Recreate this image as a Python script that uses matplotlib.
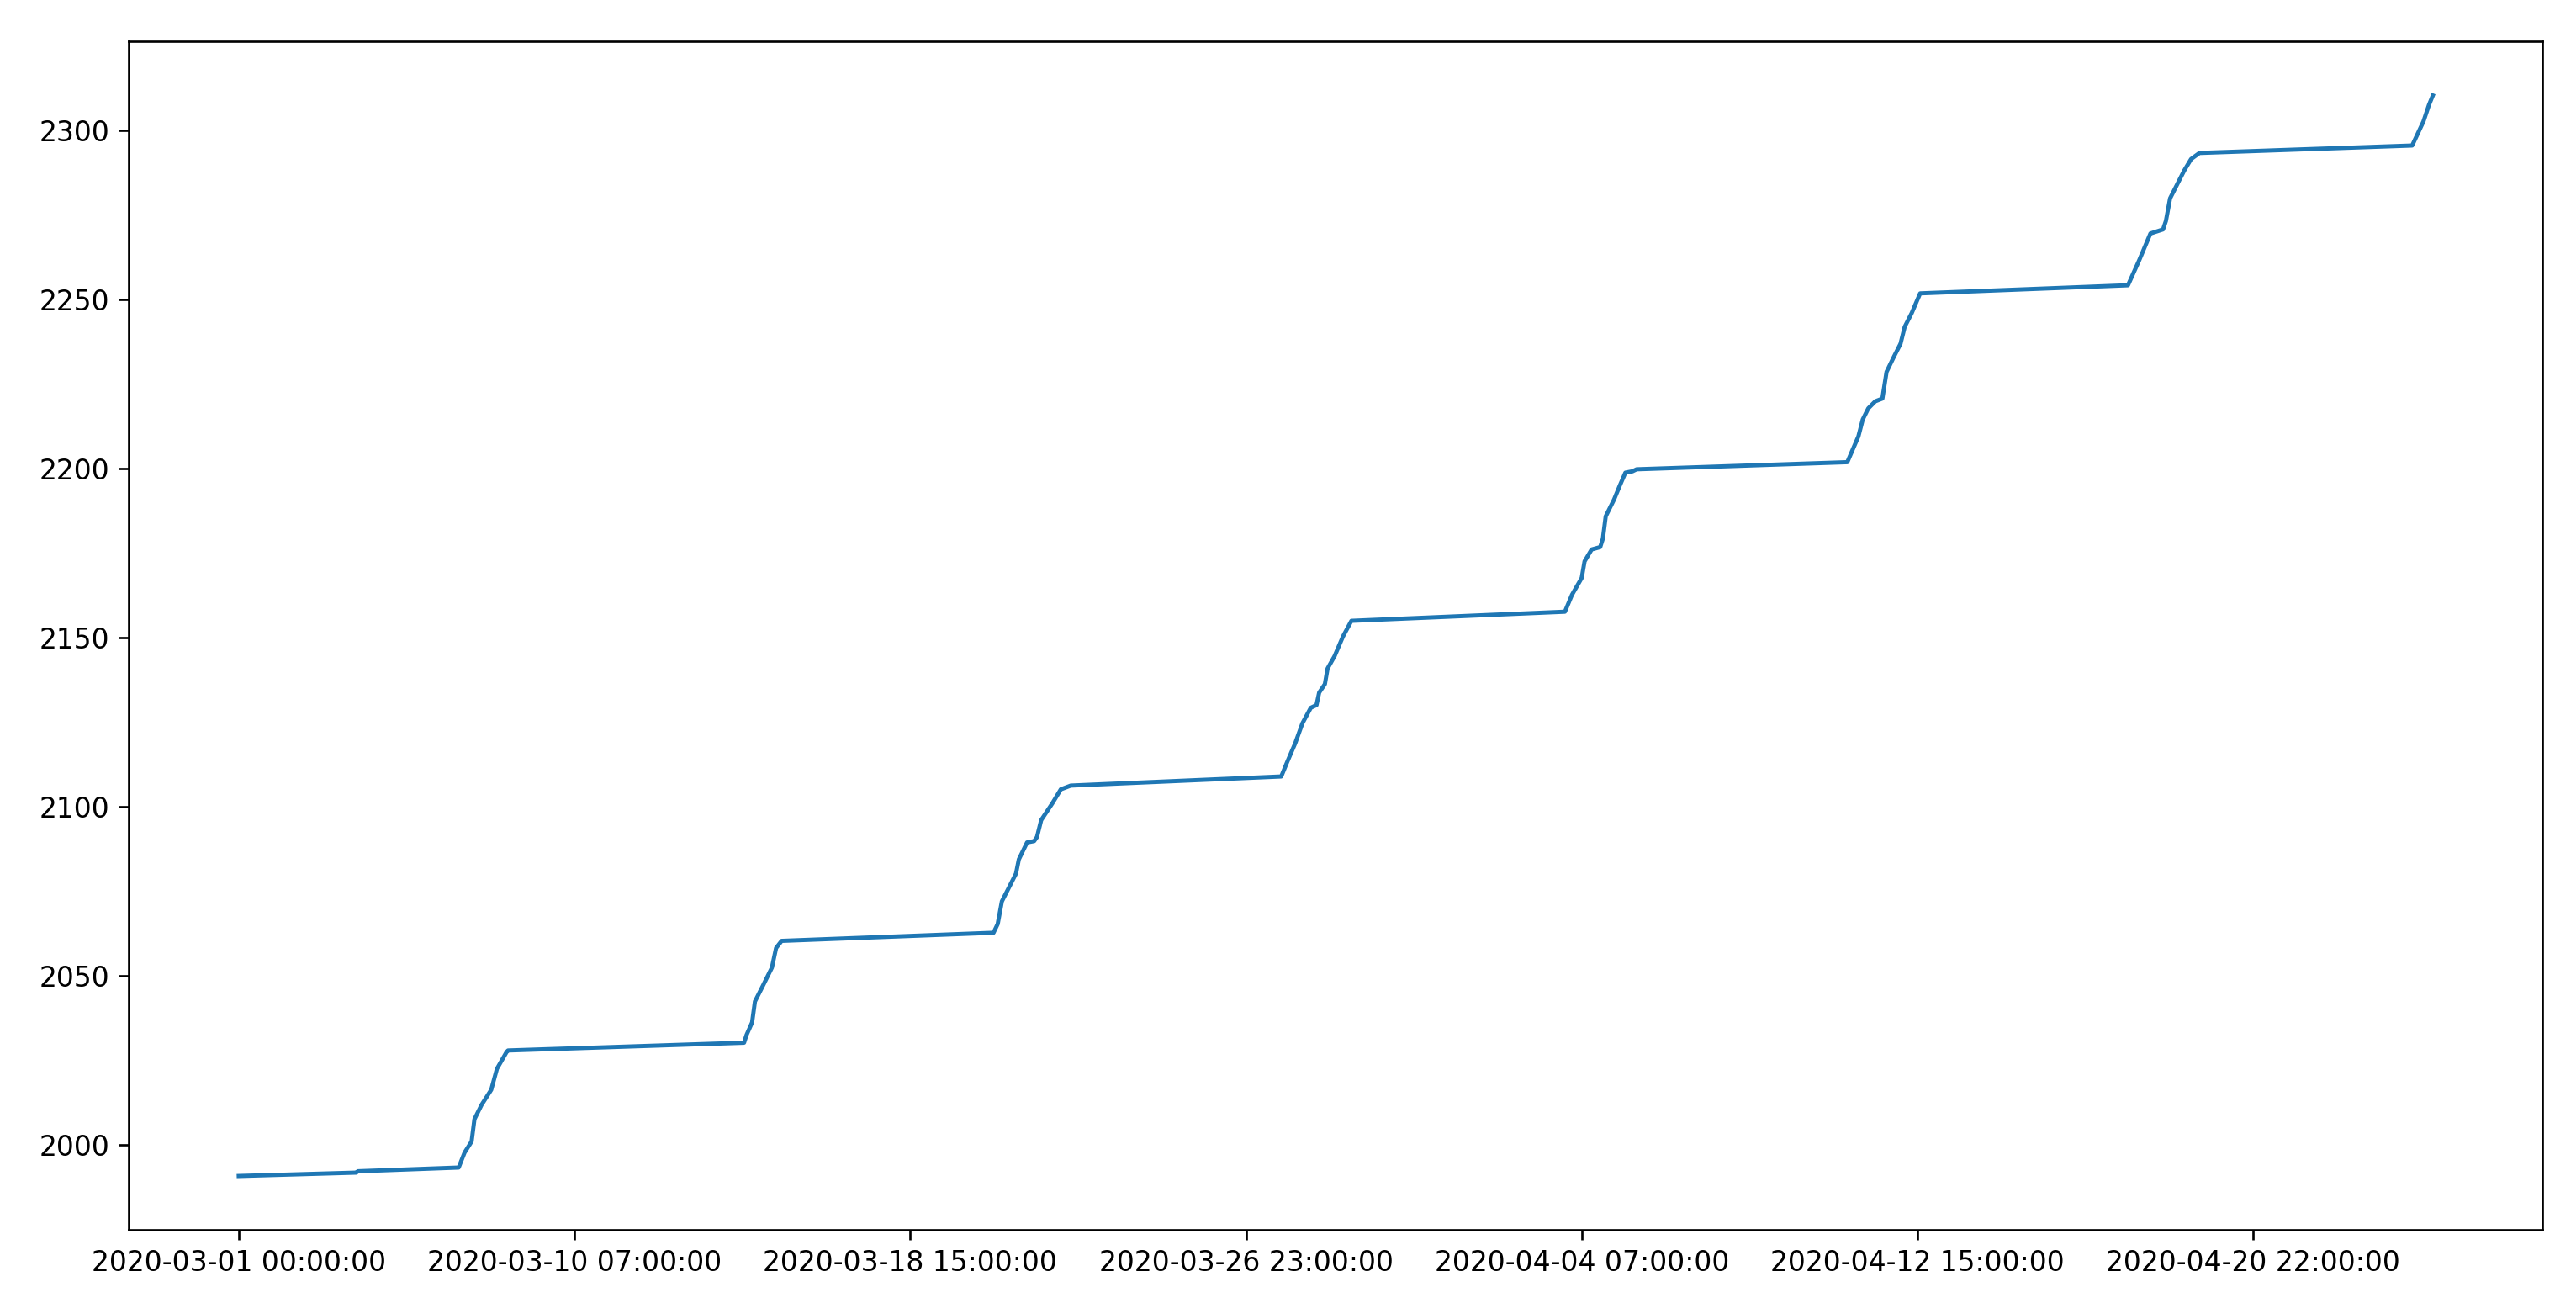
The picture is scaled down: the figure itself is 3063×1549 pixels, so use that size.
import matplotlib
matplotlib.use("Agg")
import matplotlib.pyplot as plt

# row index of each reading (hourly rows, gaps closed) and the value there
IDX = [0, 70, 71, 131, 134.5, 138.7, 140.4, 144.6, 150.4, 153.8, 159.6, 160.4,
       301, 302.5, 305.8, 307.5, 312.6, 317.6, 320.1, 323.4,
       449.6, 452.1, 454.6, 458, 463, 464.7, 469.6, 473.8, 475.5, 478, 484.7, 489.7, 495.6,
       621, 624.4, 629.4, 633.6, 638.6, 642, 643.6, 647, 648.6, 652.8, 657.8, 662.8,
       790, 794.2, 800, 801.7, 805.9, 811, 812.6, 814.3, 819.3, 822.7, 826, 830.2, 832.7,
       958.2, 964.8, 967.4, 970.7, 974.9, 979.1, 981.6, 985.7, 989.9, 992.4, 996.6, 1001.6,
       1125.4, 1132.1, 1138.8, 1146.3, 1148, 1150.5, 1155.5, 1158.9, 1163, 1168,
       1294.7, 1301.4, 1304.7, 1307]
VALUES = [1990.9, 1991.9, 1992.3, 1993.4, 1997.8, 2001.1, 2007.7, 2011.9, 2016.4, 2022.6, 2027.6, 2028.0,
          2030.3, 2032.6, 2036.3, 2042.5, 2047.5, 2052.5, 2058.3, 2060.4,
          2062.8, 2065.4, 2072.1, 2075.4, 2080.3, 2084.5, 2089.5, 2089.9, 2091.1, 2096.1, 2101.1, 2105.2, 2106.3,
          2109.0, 2113.1, 2118.9, 2124.7, 2129.3, 2130.1, 2133.8, 2136.3, 2140.9, 2144.6, 2150.4, 2155.0,
          2157.7, 2162.7, 2167.7, 2172.6, 2176.1, 2176.8, 2179.3, 2185.9, 2190.9, 2195.0, 2198.8, 2199.2, 2199.8,
          2201.9, 2209.5, 2214.5, 2217.8, 2219.9, 2220.7, 2228.6, 2232.8, 2236.9, 2241.9, 2246.0, 2251.8,
          2254.2, 2261.6, 2269.5, 2270.7, 2273.2, 2279.9, 2284.8, 2288.1, 2291.5, 2293.3,
          2295.5, 2302.6, 2307.5, 2310.3]

TICK_POS = [0, 200, 400, 600, 800, 1000, 1200]
TICK_LABELS = ['2020-03-01 00:00:00', '2020-03-10 07:00:00', '2020-03-18 15:00:00',
               '2020-03-26 23:00:00', '2020-04-04 07:00:00', '2020-04-12 15:00:00',
               '2020-04-20 22:00:00']

dpi = 238
fig = plt.figure(figsize=(3063 / dpi, 1549 / dpi), dpi=dpi)
ax = fig.add_axes([0.0501, 0.0560, 0.9369, 0.9122])

ax.plot(IDX, VALUES)
ax.set_xticks(TICK_POS)
ax.set_xticklabels(TICK_LABELS)

fig.savefig('out.png', dpi=dpi)
